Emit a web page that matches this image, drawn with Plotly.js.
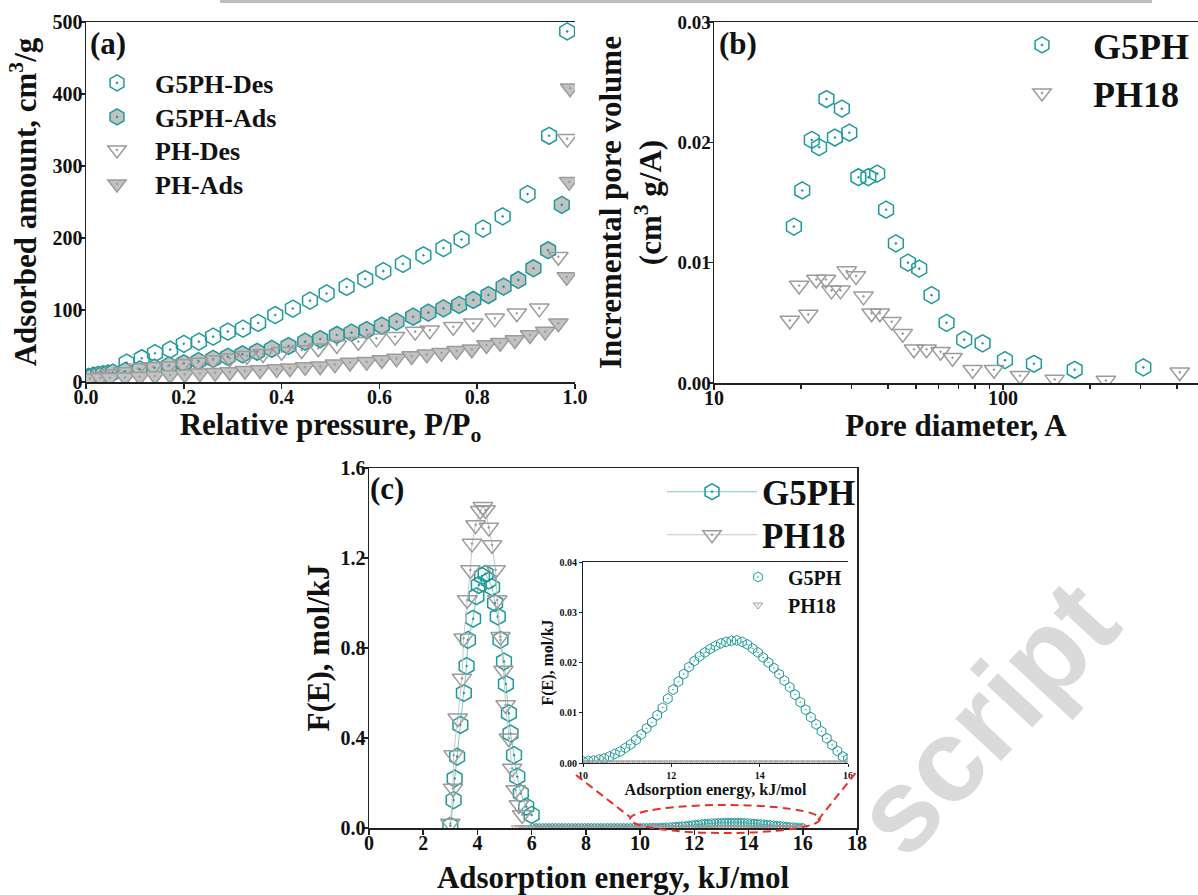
<!DOCTYPE html>
<html><head><meta charset="utf-8">
<script src="https://cdn.plot.ly/plotly-3.0.1.min.js"></script>
<style>html,body{margin:0;padding:0;background:#fff}#chart{width:1198px;height:895px}</style>
</head><body><div id="chart"></div>
<script>
// ---------- Panel (a): N2 isotherms ----------
const aP_g5Des = [0.083,0.114,0.141,0.172,0.200,0.231,0.260,0.290,0.321,0.352,0.387,0.423,0.458,0.492,0.533,0.571,0.608,0.648,0.690,0.731,0.768,0.812,0.852,0.903,0.947,0.984];
const aV_g5Des = [27,33,40,45,53,56,63,70,74,82,93,102,113,123,132,143,154,164,176,186,198,213,230,261,342,487];
const aP_g5Ads = [0.005,0.015,0.025,0.035,0.045,0.055,0.080,0.110,0.140,0.170,0.200,0.230,0.260,0.290,0.320,0.350,0.380,0.414,0.448,0.479,0.513,0.543,0.574,0.605,0.635,0.669,0.700,0.731,0.763,0.792,0.823,0.854,0.884,0.915,0.945,0.973];
const aV_g5Ads = [7,9,10,11,12,13,15,17.5,20,23,26,29,32,35,38.5,42,46,50,56,59.7,65.3,68.5,72.2,78.2,83.8,90.7,96.3,102.3,107,113.9,120.8,132.4,141.7,158,183,246];
const aP_phDes = [0.030,0.050,0.076,0.106,0.137,0.168,0.198,0.229,0.260,0.294,0.329,0.362,0.400,0.441,0.475,0.513,0.557,0.594,0.632,0.673,0.703,0.751,0.792,0.836,0.881,0.927,0.966,0.984];
const aV_phDes = [8,11,14,19,21,22,25,27,30.5,33,36.5,39,42,44.4,46.8,51.4,56,60.6,63,70,72,76.8,81.5,88.4,95.4,102.3,174,338];
const aP_phAds = [0.008,0.029,0.049,0.080,0.110,0.141,0.172,0.202,0.233,0.264,0.294,0.325,0.356,0.390,0.417,0.448,0.479,0.509,0.540,0.574,0.605,0.635,0.666,0.697,0.727,0.758,0.789,0.819,0.847,0.877,0.908,0.939,0.966,0.983,0.988,0.990];
const aV_phAds = [5,5.5,6,6.5,7.4,8.5,9.7,10.6,12,13,14,15.7,16.7,18,19,21,22,24.5,27,28,30.5,32.8,36,38.4,40.7,43.5,45.4,51.4,54.6,58.3,65.3,70,81.5,146,278,408];

// ---------- Panel (b): pore size distribution ----------
const bD_g5 = [18.9,20.2,21.8,23.1,24.5,26.2,27.7,29.4,31.6,34.2,36.7,39.4,42.6,46.9,51.3,56.6,63.8,73.4,85.0,101.6,128,177,306];
const bV_g5 = [0.0130,0.0160,0.0202,0.0196,0.0236,0.0204,0.0228,0.0208,0.0171,0.0171,0.0174,0.0144,0.0116,0.0100,0.0095,0.0073,0.0050,0.0036,0.0033,0.0019,0.0016,0.0011,0.0013];
const bD_ph = [18.3,19.7,21.2,22.6,24.4,25.5,27.4,28.8,31.0,32.9,35.1,37.5,41.2,45.0,49.2,54.4,60.8,66.9,78.5,93.1,114.5,151,227,409];
const bV_ph = [0.0052,0.0081,0.0057,0.0086,0.0086,0.0077,0.0077,0.0093,0.0089,0.0072,0.0058,0.0058,0.0051,0.0041,0.0028,0.0028,0.0026,0.0021,0.0011,0.0011,0.0006,0.0003,0.0002,0.0009];

// ---------- Panel (c): adsorption energy distribution ----------
const cE_g5 = [3.00,3.12,3.16,3.25,3.37,3.50,3.60,3.65,3.84,3.96,4.05,4.17,4.30,4.42,4.54,4.65,4.75,4.85,4.98,5.05,5.16,5.22,5.35,5.47,5.60,5.80,6.00];
const cF_g5 = [0.01,0.124,0.22,0.317,0.458,0.60,0.72,0.836,0.93,1.03,1.08,1.12,1.13,1.10,1.07,1.00,0.94,0.836,0.74,0.64,0.51,0.42,0.324,0.228,0.154,0.095,0.058];
const cE_ph = [3.00,3.10,3.12,3.27,3.43,3.49,3.62,3.74,3.80,3.93,4.10,4.20,4.30,4.42,4.54,4.67,4.73,4.85,4.96,5.04,5.16,5.28,5.41,5.53,5.65];
const cF_ph = [0.02,0.176,0.324,0.488,0.665,0.843,1.013,1.147,1.264,1.347,1.41,1.428,1.413,1.336,1.258,1.147,1.013,0.85,0.70,0.547,0.399,0.265,0.169,0.102,0.058];
// tails (the high-energy part is also the inset)
const tailE_low = [5.44,5.56,5.68,5.80,5.92,6.04,6.16,6.28,6.40,6.52,6.64,6.76,6.88,7.00,7.12,7.24,7.36,7.48,7.60,7.72,7.84,7.96,8.08,8.20,8.32,8.44,8.56,8.68,8.80,8.92,9.04,9.16,9.28,9.40,9.52,9.64,9.76,9.88];
const tailE_high = [10.00,10.12,10.24,10.36,10.48,10.60,10.72,10.84,10.96,11.08,11.20,11.32,11.44,11.56,11.68,11.80,11.92,12.04,12.16,12.28,12.40,12.52,12.64,12.76,12.88,13.00,13.12,13.24,13.36,13.48,13.60,13.72,13.84,13.96,14.08,14.20,14.32,14.44,14.56,14.68,14.80,14.92,15.04,15.16,15.28,15.40,15.52,15.64,15.76,15.88,16.00];
const g5TailLowF = [0.0001,0.0001,0.0001,0.0001,0.0001,0.0001,0.0001,0.0001,0.0001,0.0001,0.0001,0.0001,0.0001,0.0001,0.0001,0.0001,0.0002,0.0002,0.0002,0.0002,0.0002,0.0002,0.0002,0.0002,0.0002,0.0002,0.0002,0.0002,0.0002,0.0002,0.0002,0.0003,0.0003];
const g5TailHighF = [0.0003,0.0004,0.0005,0.0007,0.0009,0.0013,0.0018,0.0023,0.0030,0.0037,0.0046,0.0057,0.0069,0.0081,0.0095,0.0110,0.0128,0.0146,0.0162,0.0177,0.0191,0.0203,0.0212,0.0220,0.0227,0.0233,0.0238,0.0241,0.0243,0.0244,0.0241,0.0236,0.0228,0.0220,0.0210,0.0200,0.0189,0.0177,0.0164,0.0151,0.0136,0.0121,0.0106,0.0091,0.0077,0.0063,0.0049,0.0036,0.0024,0.0013,0.0008];
const phTailLowF = [0,0,0,0,0,0,0,0,0,0,0,0,0,0,0,0,0,0,0,0,0,0,0,0,0,0,0,0,0,0,0,0,0,0,0,0,0,0];
const phTailHighF = [0,0,0,0,0,0,0,0,0,0,0,0,0,0,0,0,0,0,0,0,0,0,0,0,0,0,0,0,0,0,0,0,0,0,0,0,0,0,0,0,0,0,0,0,0,0,0,0,0,0,0];

// ---------- layout helpers ----------
const W = 1198, H = 895;
const X = px => px / W;
const Y = py => 1 - py / H;
const TEAL = '#1f9a9a', TEAL_LINE = '#7fc8c8', GRAY = '#9c9c9c', GRAY_LINE = '#c8c8c8', FILL = '#c2c2c2';
const FONT = 'Liberation Serif';
const INK = '#111';

function axis(extra, tickSize, titleText, titleSize, standoff) {
  const a = {
    showline: true, linecolor: '#222', linewidth: 1.5,
    ticks: 'outside', ticklen: 5, tickwidth: 1.5, tickcolor: '#222',
    showgrid: false, zeroline: false,
    tickfont: {family: FONT, size: tickSize, color: INK, weight: 'bold'},
    title: {text: titleText, font: {family: FONT, size: titleSize, color: INK, weight: 'bold'}, standoff: standoff}
  };
  return Object.assign(a, extra);
}

const mk = (symbol, size, color, fill, lw) => ({symbol: symbol, size: size, color: fill, line: {color: color, width: lw}});

const traces = [
  // panel (a)
  {x: aP_g5Des, y: aV_g5Des, name: 'G5PH-Des', mode: 'markers', xaxis: 'x', yaxis: 'y', legend: 'legend',
   marker: mk('hexagon-open-dot', 17, TEAL, TEAL, 1.5)},
  {x: aP_g5Ads, y: aV_g5Ads, name: 'G5PH-Ads', mode: 'markers', xaxis: 'x', yaxis: 'y', legend: 'legend5',
   marker: mk('hexagon-dot', 17, TEAL, FILL, 1.5)},
  {x: aP_phDes, y: aV_phDes, name: 'PH-Des', mode: 'markers', xaxis: 'x', yaxis: 'y', legend: 'legend6',
   marker: mk('triangle-down-open-dot', 17, GRAY, GRAY, 1.5)},
  {x: aP_phAds, y: aV_phAds, name: 'PH-Ads', mode: 'markers', xaxis: 'x', yaxis: 'y', legend: 'legend7',
   marker: mk('triangle-down-dot', 17, GRAY, FILL, 1.5)},
  // panel (b)
  {x: bD_g5, y: bV_g5, name: 'G5PH', mode: 'markers', xaxis: 'x2', yaxis: 'y2', legend: 'legend2',
   marker: mk('hexagon-open-dot', 17, TEAL, TEAL, 1.5)},
  {x: bD_ph, y: bV_ph, name: 'PH18', mode: 'markers', xaxis: 'x2', yaxis: 'y2', legend: 'legend8',
   marker: mk('triangle-down-open-dot', 17, GRAY, GRAY, 1.5)},
  // panel (c) main
  {x: tailE_low.slice(5).concat(tailE_high), y: g5TailLowF.concat(g5TailHighF), mode: 'lines+markers', showlegend: false,
   xaxis: 'x3', yaxis: 'y3', line: {color: TEAL_LINE, width: 1}, marker: mk('hexagon-open', 9, TEAL, TEAL, 1)},
  {x: tailE_low.concat(tailE_high), y: phTailLowF.concat(phTailHighF), mode: 'lines+markers', showlegend: false,
   xaxis: 'x3', yaxis: 'y3', line: {color: GRAY_LINE, width: 1}, marker: mk('triangle-down-open', 9, GRAY, GRAY, 1)},
  {x: cE_g5, y: cF_g5, name: 'G5PH', mode: 'lines+markers', xaxis: 'x3', yaxis: 'y3', legend: 'legend3',
   line: {color: TEAL_LINE, width: 1}, marker: mk('hexagon-open-dot', 17, TEAL, TEAL, 1.5)},
  {x: cE_ph, y: cF_ph, name: 'PH18', mode: 'lines+markers', xaxis: 'x3', yaxis: 'y3', legend: 'legend9',
   line: {color: GRAY_LINE, width: 1}, marker: mk('triangle-down-open-dot', 17, GRAY, GRAY, 1.5)},
  // inset
  {x: tailE_high, y: g5TailHighF, name: 'G5PH', mode: 'markers', xaxis: 'x4', yaxis: 'y4', legend: 'legend4',
   marker: mk('hexagon-open-dot', 10, TEAL, TEAL, 1)},
  {x: tailE_high, y: phTailHighF, name: 'PH18', mode: 'markers', xaxis: 'x4', yaxis: 'y4', legend: 'legend10',
   marker: mk('triangle-down-open-dot', 8, GRAY, GRAY, 1)}
];

const legFont = s => ({family: FONT, size: s, color: INK, weight: 'bold'});
const leg = (xpx, ypx, size, iw) => ({x: X(xpx), y: Y(ypx), xanchor: 'left', yanchor: 'middle', font: legFont(size),
  bgcolor: 'rgba(0,0,0,0)', borderwidth: 0, itemwidth: iw});
const red = {color: '#e8302a', width: 2, dash: '8px,5px'};

const layout = {
  width: W, height: H,
  margin: {l: 0, r: 0, t: 0, b: 0},
  paper_bgcolor: '#ffffff', plot_bgcolor: 'rgba(0,0,0,0)',
  showlegend: true,
  xaxis: axis({domain: [X(86), X(575)], range: [0, 1], dtick: 0.2, tickformat: '.1f', anchor: 'y', mirror: true, ticklabelstandoff: -9},
    20, 'Relative pressure, P/P<sub>o</sub>', 31, 4),
  yaxis: axis({domain: [Y(382), Y(22)], range: [0, 500], dtick: 100, anchor: 'x', ticklabelstandoff: -7},
    20, 'Adsorbed amount, cm<sup>3</sup>/g', 31, 6),
  xaxis2: axis({domain: [X(714), 1], type: 'log', range: [1, Math.log10(473)], tickvals: [10, 100], ticktext: ['10', '100'], anchor: 'y2', mirror: true, ticklabelstandoff: -9,
    minor: {ticks: 'outside', ticklen: 4, tickwidth: 1.2, tickcolor: '#222', tickvals: [20,30,40,50,60,70,80,90,200,300,400]}},
    20, 'Pore diameter, A', 31, 4),
  yaxis2: axis({domain: [Y(383), Y(22)], range: [0, 0.03], dtick: 0.01, tickformat: '.2f', anchor: 'x2', ticklabelstandoff: -7},
    19, 'Incremental pore volume<br>(cm<sup>3</sup> g/A)', 31, 6),
  xaxis3: axis({domain: [X(369), X(857)], range: [0, 18], dtick: 2, anchor: 'y3', mirror: true, ticklabelstandoff: -9},
    20, 'Adsorption energy, kJ/mol', 31, 21),
  yaxis3: axis({domain: [Y(828), Y(468)], range: [0, 1.6], dtick: 0.4, tickformat: '.1f', anchor: 'x3', mirror: true, ticklabelstandoff: -7},
    20, 'F(E), mol/kJ', 31, 1),
  xaxis4: axis({domain: [X(583), X(848)], range: [10, 16], dtick: 2, anchor: 'y4', mirror: true, ticklen: 3, tickwidth: 1, linewidth: 1},
    10, 'Adsorption energy, kJ/mol', 16, 2),
  yaxis4: axis({domain: [Y(763), Y(562)], range: [0, 0.04], dtick: 0.01, tickformat: '.2f', anchor: 'x4', ticklen: 3, tickwidth: 1, linewidth: 1},
    10, 'F(E), mol/kJ', 16, 1),
  legend: leg(79, 83, 26, 66),
  legend5: leg(79, 117, 26, 66),
  legend6: leg(79, 150, 26, 66),
  legend7: leg(79, 184, 26, 66),
  legend2: leg(991, 45, 36, 92),
  legend8: leg(991, 93, 36, 92),
  legend3: leg(662, 492, 35, 90),
  legend9: leg(662, 535, 35, 90),
  legend4: leg(728, 577, 20, 50),
  legend10: leg(728, 605, 20, 50),
  annotations: [
    {text: '(a)', xref: 'paper', yref: 'paper', x: X(88), y: Y(44), xanchor: 'left', yanchor: 'middle', showarrow: false, font: legFont(31)},
    {text: '(b)', xref: 'paper', yref: 'paper', x: X(717), y: Y(44), xanchor: 'left', yanchor: 'middle', showarrow: false, font: legFont(31)},
    {text: '(c)', xref: 'paper', yref: 'paper', x: X(368), y: Y(488), xanchor: 'left', yanchor: 'middle', showarrow: false, font: legFont(31)},
    {text: 'script', xref: 'paper', yref: 'paper', x: X(985), y: Y(718), xanchor: 'center', yanchor: 'middle', showarrow: false, textangle: -47,
     font: {family: 'Liberation Sans', size: 118, color: '#dadada', weight: 'bold'}}
  ],
  shapes: [
    {type: 'rect', xref: 'paper', yref: 'paper', x0: X(220), x1: X(1152), y0: Y(3), y1: Y(0), fillcolor: '#bdbdbd', line: {width: 0}},
    {type: 'circle', xref: 'paper', yref: 'paper', x0: X(630), x1: X(820), y0: Y(833), y1: Y(805), line: red},
    {type: 'line', xref: 'paper', yref: 'paper', x0: X(576), y0: Y(775), x1: X(630), y1: Y(817), line: red},
    {type: 'line', xref: 'paper', yref: 'paper', x0: X(818), y0: Y(820), x1: X(858), y1: Y(770), line: red}
  ]
};

Plotly.newPlot('chart', traces, layout, {displayModeBar: false, staticPlot: true});
</script>
</body></html>
